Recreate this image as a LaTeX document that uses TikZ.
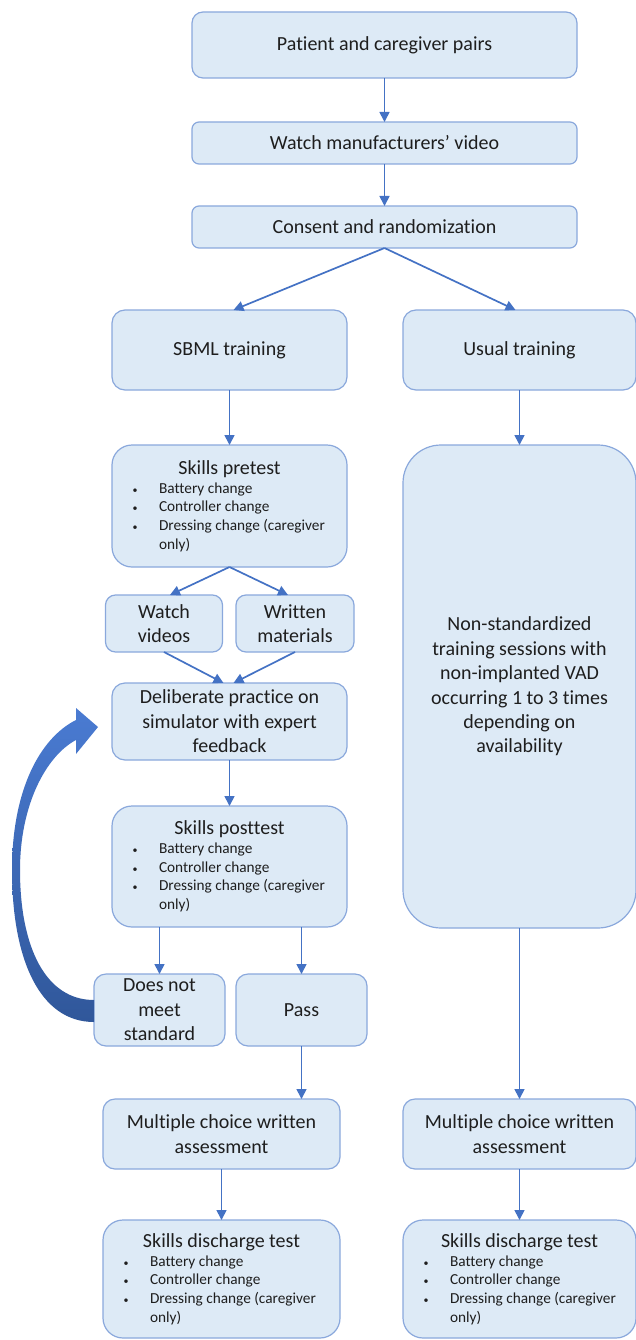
\documentclass[tikz,border=0pt]{standalone}
\usepackage{fontspec}
\setmainfont{Carlito}[Ligatures=NoCommon]
\usepackage{xcolor}
\usetikzlibrary{arrows.meta,positioning,calc}
\definecolor{boxfill}{HTML}{DDEAF6}
\definecolor{boxline}{HTML}{8AA8DC}
\definecolor{flowblue}{HTML}{4472C4}
\definecolor{looptop}{HTML}{4A7BD2}
\definecolor{loopbot}{HTML}{30579A}
\definecolor{flowtextcol}{HTML}{1E1E1E}
\newcommand{\flowtext}{\fontsize{20}{24.4}\selectfont}
\newcommand{\flowsmall}{\fontsize{15.3}{18.7}\selectfont}
\newcommand{\taskitem}[1]{\par\hangindent=36pt\hangafter=1\noindent\makebox[24pt]{\fontsize{10}{10}\selectfont\textbullet}\hspace{12pt}#1}
\newcommand{\tasklist}{\par\raggedright\leftskip=11pt\flowsmall
  \taskitem{Battery change}%
  \taskitem{Controller change}%
  \taskitem{Dressing change (caregiver\newline only)}}
\newcommand{\skillbox}[2]{\parbox{#1}{\centering #2\par\tasklist}}

\begin{document}
\begin{tikzpicture}[
    x=1pt, y=-1pt,
    >={Triangle[length=10pt,width=10pt]},
    box/.style={draw=boxline, fill=boxfill, line width=1.2pt, align=center, inner sep=0pt, outer sep=0pt, text=flowtextcol, font=\flowtext},
    listbox/.style={box, rounded corners=20pt},
    flow/.style={->, draw=flowblue, line width=1.7pt}
]
\useasboundingbox (0,0) rectangle (636,1340);
% common path
\node[box, minimum width=385pt, minimum height=66pt, rounded corners=11pt] (pairs) at (384.5,45) {Patient and caregiver pairs};
\node[box, minimum width=385pt, minimum height=42pt, rounded corners=7pt, below=44pt of pairs] (mfrvideo) {Watch manufacturers’ video};
\node[box, minimum width=385pt, minimum height=42pt, rounded corners=7pt, below=42pt of mfrvideo] (consent) {Consent and randomization};
% SBML arm
\node[box, minimum width=235pt, minimum height=80pt, rounded corners=13pt] (sbml) at (229.5,350) {SBML training};
\node[listbox, minimum width=235pt, minimum height=122pt, below=55pt of sbml] (pretest) {\skillbox{235pt}{Skills pretest}};
\node[box, minimum width=117pt, minimum height=57pt, rounded corners=10pt] (videos) at (164,623.5) {Watch\\videos};
\node[box, minimum width=118pt, minimum height=57pt, rounded corners=10pt] (written) at (295,623.5) {Written\\materials};
\node[box, minimum width=235pt, minimum height=77pt, rounded corners=13pt, below=116pt of pretest] (practice) {Deliberate practice on\\simulator with expert\\feedback};
\node[listbox, minimum width=235pt, minimum height=121pt, below=46pt of practice] (posttest) {\skillbox{235pt}{Skills posttest}};
\node[box, minimum width=131pt, minimum height=72pt, rounded corners=12pt] (fail) at (159.5,1010) {Does not\\meet\\standard};
\node[box, minimum width=131pt, minimum height=72pt, rounded corners=12pt] (pass) at (301.5,1010) {Pass};
\node[box, minimum width=237pt, minimum height=70pt, rounded corners=12pt] (mcleft) at (221.5,1134) {Multiple choice written\\assessment};
\node[listbox, minimum width=237pt, minimum height=118pt, below=51pt of mcleft] (dischleft) {\skillbox{237pt}{Skills discharge test}};
% usual arm
\node[box, minimum width=233pt, minimum height=80pt, rounded corners=13pt] (usual) at (519.5,350) {Usual training};
\node[box, minimum width=233pt, minimum height=483pt, rounded corners=38pt, below=55pt of usual] (nonstd) {Non-standardized\\training sessions with\\non-implanted VAD\\occurring 1 to 3 times\\depending on\\availability};
\node[box, minimum width=233pt, minimum height=70pt, rounded corners=12pt, below=171pt of nonstd] (mcright) {Multiple choice written\\assessment};
\node[listbox, minimum width=233pt, minimum height=118pt, below=51pt of mcright] (dischright) {\skillbox{233pt}{Skills discharge test}};
% connectors
\draw[flow] (pairs) -- (mfrvideo);
\draw[flow] (mfrvideo) -- (consent);
\draw[flow] (consent.south) -- ([xshift=4pt]sbml.north);
\draw[flow] (consent.south) -- ([xshift=-4pt]usual.north);
\draw[flow] (sbml) -- (pretest);
\draw[flow] (pretest.south) -- ([xshift=6pt]videos.north);
\draw[flow] (pretest.south) -- ([xshift=-7pt]written.north);
\draw[flow] (videos.south) -- ([xshift=-6pt]practice.north);
\draw[flow] (written.south) -- ([xshift=4pt]practice.north);
\draw[flow] (practice) -- (posttest);
\draw[flow] (fail.north |- posttest.south) -- (fail.north);
\draw[flow] (pass.north |- posttest.south) -- (pass.north);
\draw[flow] (pass.south) -- (pass.south |- mcleft.north);
\draw[flow] (mcleft) -- (dischleft);
\draw[flow] (usual) -- (nonstd);
\draw[flow] (nonstd) -- (mcright);
\draw[flow] (mcright) -- (dischright);
% loop back to practice
\shade[top color=looptop, bottom color=loopbot]
  (94,1022) .. controls (40,1022) and (12,960) .. (12,870)
  .. controls (12,790) and (40,738) .. (76,720)
  -- (76,708) -- (98,727) -- (76,754) -- (76,740)
  .. controls (46,756) and (20,805) .. (20,870)
  .. controls (20,948) and (46,1000) .. (94,1000) -- cycle;
\end{tikzpicture}
\end{document}
